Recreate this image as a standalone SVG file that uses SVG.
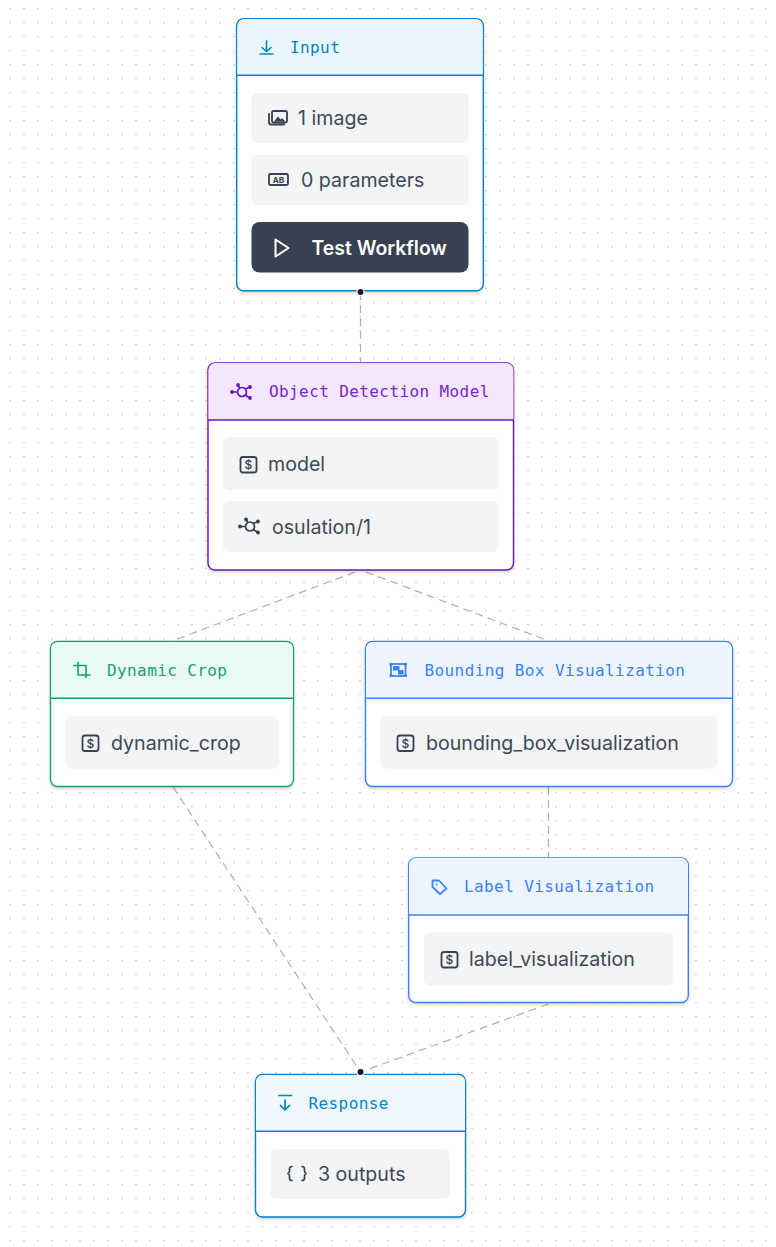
<svg xmlns="http://www.w3.org/2000/svg" width="776" height="1247" viewBox="0 0 776 1247">
<style>
.card{fill:#fff;stroke-width:1.4}
.head{stroke:none}
.row{fill:#f3f4f6}
.t{font-family:Inter,"Noto Sans",sans-serif;font-size:19.6px;fill:#3f4856}
.h{font-family:"DejaVu Sans Mono",monospace;font-size:16px;letter-spacing:.4px}
.ic{fill:none;stroke:#374151;stroke-width:1.8;stroke-linecap:round;stroke-linejoin:round}
.edge{fill:none;stroke:#b0b0b0;stroke-width:1.2;stroke-dasharray:8 5}
.dot{fill:#1a192b;stroke:#fff;stroke-width:2;paint-order:stroke}
</style>
<defs>
<pattern id="grid" x="612" y="1100" width="14" height="14" patternUnits="userSpaceOnUse"><rect x="-.8" y="-.2" width="1.6" height="1.4" fill="#c8c8c8"/><rect x="13.2" y="-.2" width="1.6" height="1.4" fill="#c8c8c8"/></pattern>
<filter id="sh" x="-5%" y="-5%" width="110%" height="110%"><feDropShadow dx="0" dy="1.5" stdDeviation="1.5" flood-color="#000" flood-opacity=".18"/></filter>
<g id="dollar"><rect x=".5" y=".5" width="16" height="15.500" rx="2.500" class="ic"/><text x="8.500" y="12.500" text-anchor="middle" style="font-family:Inter,sans-serif;font-size:12px;font-weight:500;fill:#374151">$</text></g>
<g id="net"><circle cx="0" cy="0" r="4.500" fill="none" stroke-width="1.700"/><path d="M-2-3.500-4-7M3-3 8-5M3 3 8 6M-4.500 0H-10" fill="none" stroke-width="1.700"/><circle cx="-4" cy="-7" r="1.900" stroke="none"/><circle cx="8" cy="-5" r="1.900" stroke="none"/><circle cx="8" cy="6" r="1.900" stroke="none"/><circle cx="-10" cy="0" r="1.900" stroke="none"/></g>
</defs>
<rect width="776" height="1247" fill="#fff"/>
<rect width="776" height="1247" fill="url(#grid)"/>
<g id="connectors">
<path class="edge" d="M360.500 292V363"/>
<path class="edge" d="M355 572L172 641"/>
<path class="edge" d="M366 572L549 641"/>
<path class="edge" d="M173 787L360.500 1072"/>
<path class="edge" d="M548.500 787V858"/>
<path class="edge" d="M548.500 1004L360.500 1072"/>
</g>
<g id="node-input">
<rect class="card" x="236.700" y="18.700" width="246.600" height="272" rx="7" stroke="#0284c7" filter="url(#sh)"/>
<path class="head" d="M237.500 75V26a7 7 0 0 1 7-7h231a7 7 0 0 1 7 7V75Z" fill="#e9f6fe"/>
<path d="M237 75.300H483" stroke="#0284c7" stroke-width="1.400"/>
<path d="M266.500 41V51M262 47.500l4.500 4 4.500-4M260 54H273" fill="none" stroke="#0284c7" stroke-width="1.600" stroke-linecap="round" stroke-linejoin="round"/>
<text class="h" x="290" y="52.500" fill="#0284c7">Input</text>
<rect class="row" x="251.500" y="93" width="217" height="50" rx="6"/>
<rect x="272" y="111" width="15" height="11.500" rx="1.500" class="ic"/>
<path d="M269 114V122.500a2 2 0 0 0 2 2H284" class="ic"/>
<path d="M274 121.500l4-5 2.500 3 1.500-1.500 3.500 3.500Z" fill="#374151"/>
<text class="t" x="298" y="125">1 image</text>
<rect class="row" x="251.500" y="155" width="217" height="50" rx="6"/>
<rect x="269" y="174" width="19" height="11" rx="1.500" class="ic"/>
<text x="278.500" y="182.800" text-anchor="middle" style="font-family:Inter,sans-serif;font-size:8px;font-weight:700;fill:#374151">AB</text>
<text class="t" x="301" y="187">0 parameters</text>
<rect x="251.500" y="222" width="217" height="50.500" rx="8" fill="#374151"/>
<path d="M275.500 239.500L288.500 248L275.500 256.500Z" fill="none" stroke="#fff" stroke-width="2" stroke-linejoin="round"/>
<text class="t" x="311.500" y="255" style="fill:#fff;font-weight:600;font-size:19.400px">Test Workflow</text>
<circle class="dot" cx="360.500" cy="292" r="3"/>
</g>
<g id="node-model">
<rect class="card" x="208" y="363" width="305.500" height="207" rx="7" stroke="#6b14c0" filter="url(#sh)"/>
<path class="head" d="M208.500 420V370a7 7 0 0 1 7-7h291a7 7 0 0 1 7 7V420Z" fill="#f3e6fd"/>
<path d="M208 420H514" stroke="#6b14c0" stroke-width="1.400"/>
<use href="#net" x="242" y="392" fill="#6b14c0" stroke="#6b14c0"/>
<text class="h" x="269" y="396.500" fill="#7a24cc">Object Detection Model</text>
<rect class="row" x="223" y="437" width="276" height="53" rx="6"/>
<use href="#dollar" x="240" y="456.500"/>
<text class="t" x="268" y="471">model</text>
<rect class="row" x="223" y="501" width="276" height="51" rx="6"/>
<use href="#net" x="250" y="526.500" fill="#374151" stroke="#374151"/>
<text class="t" x="272" y="534">osulation/1</text>
</g>
<g id="node-crop">
<rect class="card" x="50.500" y="641.500" width="243" height="145" rx="7" stroke="#16a070" filter="url(#sh)"/>
<path class="head" d="M51 698V649a7 7 0 0 1 7-7h228a7 7 0 0 1 7 7V698Z" fill="#e9fbf3"/>
<path d="M51 698.300H294" stroke="#16a070" stroke-width="1.400"/>
<path d="M78 662.500V675H90M74 665.500H86V677.500" fill="none" stroke="#16a070" stroke-width="1.600" stroke-linecap="round" stroke-linejoin="round"/>
<text class="h" x="107" y="675.500" fill="#16a070">Dynamic Crop</text>
<rect class="row" x="65.500" y="716" width="213.500" height="52.500" rx="6"/>
<use href="#dollar" x="82" y="735"/>
<text class="t" x="111" y="750">dynamic_crop</text>
</g>
<g id="node-bbox">
<rect class="card" x="365.500" y="641.500" width="367" height="145" rx="7" stroke="#3b82f6" filter="url(#sh)"/>
<path class="head" d="M366 698V649a7 7 0 0 1 7-7h352a7 7 0 0 1 7 7V698Z" fill="#eef5ff"/>
<path d="M366 698.300H733" stroke="#3b82f6" stroke-width="1.400"/>
<rect x="391" y="664" width="14.500" height="12" fill="none" stroke="#3b82f6" stroke-width="1.800"/>
<rect x="393" y="666" width="6.500" height="4.500" fill="#3b82f6"/><rect x="398" y="670" width="5.500" height="4.500" fill="#3b82f6"/>
<path d="M389.500 663h3v2.500h-3zM404 663h3v2.500h-3zM389.500 674.500h3v2.500h-3zM404 674.500h3v2.500h-3z" fill="#3b82f6"/>
<text class="h" x="424.500" y="675.500" fill="#3b82f6">Bounding Box Visualization</text>
<rect class="row" x="380" y="716" width="337.500" height="52.500" rx="6"/>
<use href="#dollar" x="397" y="735"/>
<text class="t" x="426" y="750">bounding_box_visualization</text>
</g>
<g id="node-label">
<rect class="card" x="408.700" y="858" width="279.600" height="144.500" rx="7" stroke="#3b82f6" filter="url(#sh)"/>
<path class="head" d="M409 915V865a7 7 0 0 1 7-7h265a7 7 0 0 1 7 7V915Z" fill="#eef5ff"/>
<path d="M409 915H688" stroke="#3b82f6" stroke-width="1.400"/>
<path d="M432.500 880.500H439L446.500 888.500L440 894L432.500 887Z" fill="none" stroke="#3b82f6" stroke-width="1.800" stroke-linejoin="round"/>
<circle cx="436.500" cy="884.500" r="1" fill="#3b82f6"/>
<text class="h" x="464" y="891.500" fill="#3b82f6">Label Visualization</text>
<rect class="row" x="424" y="932.500" width="249.500" height="53" rx="6"/>
<use href="#dollar" x="441" y="951.500"/>
<text class="t" x="469" y="966">label_visualization</text>
</g>
<g id="node-response">
<rect class="card" x="255.500" y="1074.500" width="210" height="142.500" rx="7" stroke="#0284c7" filter="url(#sh)"/>
<path class="head" d="M256 1131V1082a7 7 0 0 1 7-7h195a7 7 0 0 1 7 7V1131Z" fill="#f0f8fe"/>
<path d="M256 1131.300H465.500" stroke="#0284c7" stroke-width="1.400"/>
<path d="M279 1095.500H291.500M285 1100V1109.500M280.500 1105.500l4.500 4.500 4.500-4.500" fill="none" stroke="#0284c7" stroke-width="1.700" stroke-linecap="round" stroke-linejoin="round"/>
<text class="h" x="308.500" y="1108.500" fill="#0284c7">Response</text>
<rect class="row" x="270.500" y="1149" width="179.500" height="50" rx="6"/>
<path d="M292 1166.500q-2.500 0-2.500 2.500v2q0 2-2 2.500q2 .5 2 2.500v2q0 2.500 2.500 2.500M302 1166.500q2.500 0 2.500 2.500v2q0 2 2 2.500q-2 .5-2 2.500v2q0 2.500-2.500 2.500" fill="none" stroke="#374151" stroke-width="1.700" stroke-linecap="round"/>
<text class="t" x="318" y="1181">3 outputs</text>
<circle class="dot" cx="360.500" cy="1072" r="3"/>
</g>
</svg>
